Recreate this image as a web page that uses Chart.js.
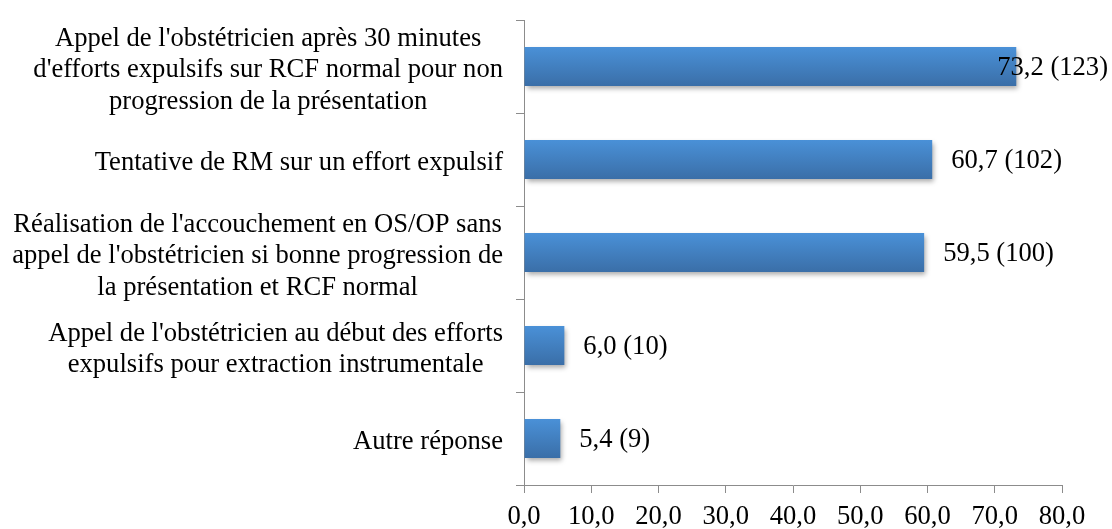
<!DOCTYPE html>
<html>
<head>
<meta charset="utf-8">
<script src="https://cdn.jsdelivr.net/npm/chart.js@4"></script>
<style>
  html, body { margin: 0; padding: 0; background: #ffffff; }
  #wrap { width: 1112px; height: 529px; }
</style>
</head>
<body>
<div id="wrap"><canvas id="c" width="1112" height="529"></canvas></div>
<script>
// ---- data ----
const categories = [
  ["Appel de l'obstétricien après 30 minutes", "d'efforts expulsifs sur RCF normal pour non", "progression de la présentation"],
  ["Tentative de RM sur un effort expulsif"],
  ["Réalisation de l'accouchement en OS/OP sans", "appel de l'obstétricien si bonne progression de", "la présentation et RCF normal"],
  ["Appel de l'obstétricien au début des efforts", "expulsifs pour extraction instrumentale"],
  ["Autre réponse"]
];
const percents = [73.2, 60.7, 59.5, 6.0, 5.4];
const counts = [123, 102, 100, 10, 9];
const xTickMin = 0, xTickMax = 80, xTickStep = 10;

const FONT = "'Liberation Serif', 'Times New Roman', serif";
const FSIZE = 26.6;
const fmt = v => v.toFixed(1).replace('.', ',');
const valueLabels = percents.map((p, i) => fmt(p) + ' (' + counts[i] + ')');

const shadowPlugin = {
  id: 'barShadow',
  beforeDatasetsDraw(chart) {
    const ctx = chart.ctx;
    ctx.save();
    ctx.shadowColor = 'rgba(0,0,0,0.35)';
    ctx.shadowBlur = 5;
    ctx.shadowOffsetX = 2;
    ctx.shadowOffsetY = 3;
  },
  afterDatasetsDraw(chart) {
    chart.ctx.restore();
  }
};

const labelsPlugin = {
  id: 'textLabels',
  afterDraw(chart) {
    const ctx = chart.ctx;
    const ys = chart.scales.y;
    const meta = chart.getDatasetMeta(0);
    ctx.save();
    ctx.font = FSIZE + 'px ' + FONT;
    ctx.fillStyle = '#000000';
    ctx.textBaseline = 'middle';
    // category labels: block right-aligned, lines centred within block
    const rightEdge = ys.right - 21;
    const lineH = 31.5;
    categories.forEach((lines, i) => {
      const yc = ys.getPixelForValue(i) + 4;
      const bw = Math.max(...lines.map(l => ctx.measureText(l).width));
      const cx = rightEdge - bw / 2;
      ctx.textAlign = 'center';
      lines.forEach((l, k) => {
        const y = yc + (k - (lines.length - 1) / 2) * lineH;
        ctx.fillText(l, cx, y);
      });
    });
    // value labels
    ctx.textAlign = 'left';
    meta.data.forEach((bar, i) => {
      const t = valueLabels[i];
      const w = ctx.measureText(t).width;
      let x = bar.x + 19;
      if (x + w > chart.width - 4) x = chart.width - 4 - w;
      ctx.fillText(t, x, bar.y + 2);
    });
    ctx.restore();
  }
};

new Chart(document.getElementById('c'), {
  type: 'bar',
  data: {
    labels: categories,
    datasets: [{
      data: percents,
      backgroundColor: (c) => {
        const ch = c.chart;
        if (!ch.chartArea || !ch.scales.y) return '#4385c9';
        const y = ch.scales.y.getPixelForValue(c.dataIndex);
        const g = ch.ctx.createLinearGradient(0, y - 20, 0, y + 20);
        g.addColorStop(0, '#4a91d8');
        g.addColorStop(1, '#3a6ea7');
        return g;
      },
      borderWidth: 0,
      barPercentage: 0.42,
      categoryPercentage: 1.0
    }]
  },
  options: {
    indexAxis: 'y',
    responsive: false,
    animation: false,
    devicePixelRatio: 1,
    layout: { padding: { top: 20, right: 50, left: 0, bottom: 0 } },
    plugins: { legend: { display: false }, tooltip: { enabled: false } },
    scales: {
      x: {
        min: xTickMin, max: xTickMax,
        ticks: {
          stepSize: xTickStep,
          callback: v => fmt(v),
          font: { family: FONT, size: FSIZE },
          color: '#000000',
          padding: 8,
          maxRotation: 0
        },
        grid: { drawOnChartArea: false, drawTicks: true, tickLength: 8, color: '#8c8c8c', lineWidth: 1 },
        border: { color: '#8c8c8c', width: 1 },
        afterFit: s => { s.height = 44; }
      },
      y: {
        ticks: { display: false },
        grid: { offset: true, drawOnChartArea: false, drawTicks: true, tickLength: 8, color: '#8c8c8c', lineWidth: 1 },
        border: { color: '#8c8c8c', width: 1 },
        afterFit: s => { s.width = 524; }
      }
    }
  },
  plugins: [shadowPlugin, labelsPlugin]
});
</script>
</body>
</html>
